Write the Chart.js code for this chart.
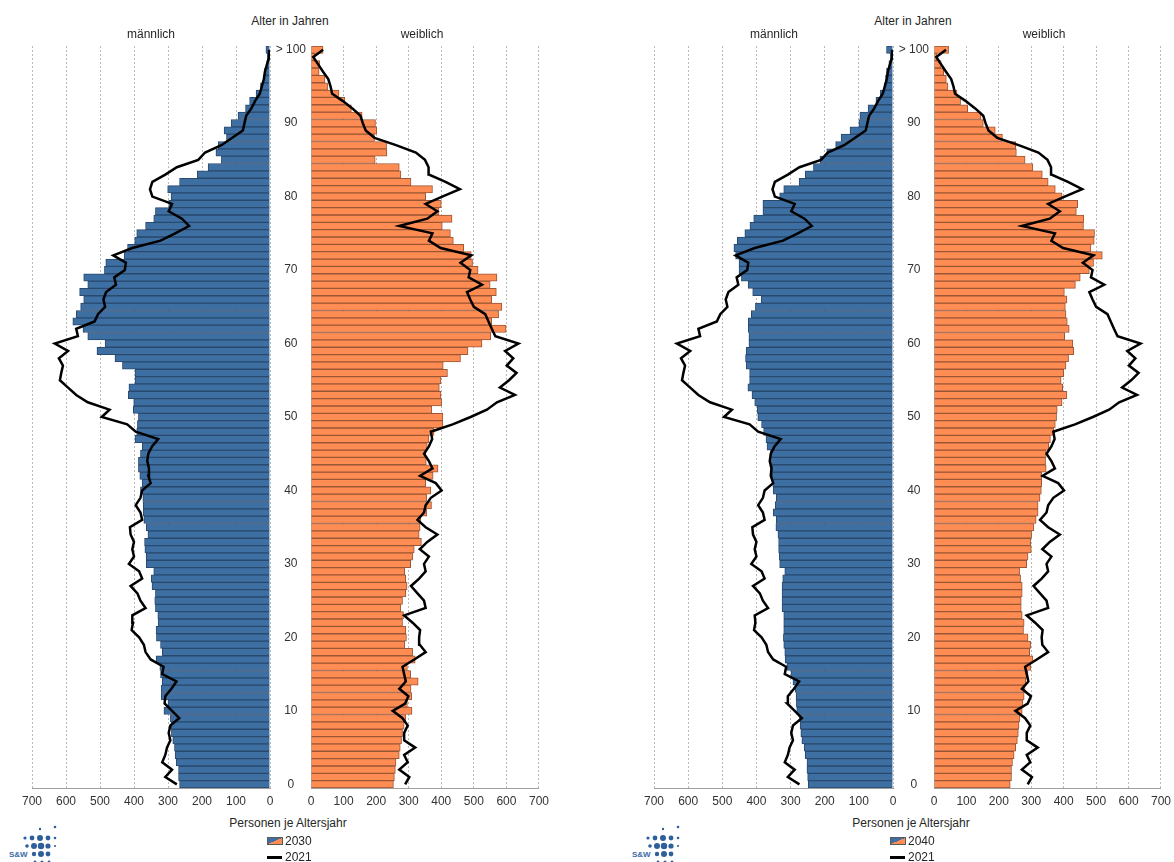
<!DOCTYPE html>
<html>
<head>
<meta charset="utf-8">
<script src="https://cdn.jsdelivr.net/npm/chart.js@4.4.0/dist/chart.umd.min.js"></script>
<style>
body{margin:0;background:#fff;width:1174px;height:862px;overflow:hidden;position:relative;font-family:"Liberation Sans",Arial,sans-serif;color:#262626}
canvas{position:absolute}
.t{position:absolute;font-size:12px;white-space:nowrap;transform:translate(-50%,-50%)}
.l{position:absolute;font-size:12px;white-space:nowrap;transform:translateY(-50%)}
.sw{position:absolute;width:14px;height:6px;border:1px solid #5a5a5a;background:linear-gradient(to bottom right,#3e6fa3 50%,#ff8c52 50%)}
.ln{position:absolute;width:15px;height:3px;background:#000}
svg{position:absolute}
</style>
</head>
<body>
<canvas id="mL" width="268" height="782" style="left:16px;top:33px"></canvas>
<canvas id="fL" width="285" height="782" style="left:270px;top:33px"></canvas>
<canvas id="mR" width="269" height="782" style="left:638px;top:33px"></canvas>
<canvas id="fR" width="284" height="782" style="left:893px;top:33px"></canvas>

<div class="t" style="left:290px;top:21px">Alter in Jahren</div>
<div class="t" style="left:151px;top:34px">männlich</div>
<div class="t" style="left:422px;top:34px">weiblich</div>
<div class="t" style="left:913px;top:21px">Alter in Jahren</div>
<div class="t" style="left:774px;top:34px">männlich</div>
<div class="t" style="left:1044px;top:34px">weiblich</div>

<div class="t" style="left:288px;top:823px">Personen je Altersjahr</div>
<div class="sw" style="left:267px;top:837px"></div>
<div class="l" id="yL" style="left:285px;top:841px"></div>
<div class="ln" style="left:267px;top:856px"></div>
<div class="l" id="lL" style="left:285px;top:857px"></div>

<div class="t" style="left:911px;top:823px">Personen je Altersjahr</div>
<div class="sw" style="left:890px;top:837px"></div>
<div class="l" id="yR" style="left:908px;top:841px"></div>
<div class="ln" style="left:890px;top:856px"></div>
<div class="l" id="lR" style="left:908px;top:857px"></div>

<svg width="60" height="40" style="left:8px;top:824px" id="logoL"></svg>
<svg width="60" height="40" style="left:631px;top:824px" id="logoR"></svg>

<script>
// Altersjahre 0 .. 100 (100 = "> 100")
const ages = [0,1,2,3,4,5,6,7,8,9,10,11,12,13,14,15,16,17,18,19,20,21,22,23,24,25,26,27,28,29,30,31,32,33,34,35,36,37,38,39,40,41,42,43,44,45,46,47,48,49,50,51,52,53,54,55,56,57,58,59,60,61,62,63,64,65,66,67,68,69,70,71,72,73,74,75,76,77,78,79,80,81,82,83,84,85,86,87,88,89,90,91,92,93,94,95,96,97,98,99,100];
const ageTicks = ['0','10','20','30','40','50','60','70','80','90','> 100'];
const years = ['2030', '2040'];
const baseYear = '2021';

// Personen je Altersjahr, Alter 0 -> 100
const male2030 = [266,269,269,276,279,281,286,290,291,293,312,300,320,320,317,322,324,335,317,322,334,335,329,330,337,339,337,347,349,342,364,364,368,369,359,364,371,373,373,374,381,376,383,387,387,381,376,397,392,390,387,402,401,417,415,397,397,434,456,509,485,536,550,580,570,557,548,560,536,548,487,483,429,419,398,392,366,342,337,298,291,301,266,214,182,143,159,152,128,135,114,94,72,60,41,28,20,16,10,8,12];
const female2030 = [253,256,259,261,271,274,278,281,286,291,310,296,309,307,329,306,296,320,312,288,293,291,281,284,276,281,291,295,291,288,306,312,317,339,332,335,337,355,370,355,368,352,375,390,354,352,357,362,378,405,405,371,401,399,394,399,419,406,459,482,525,552,599,555,576,586,555,569,550,571,513,496,492,469,437,428,403,433,393,400,352,373,307,276,271,197,233,232,195,202,198,157,124,104,86,51,43,25,27,12,37];
const male2040 = [248,250,252,252,257,260,267,270,272,274,282,283,284,286,293,299,311,316,317,320,321,320,320,320,325,325,325,325,323,317,332,333,335,335,337,343,342,351,345,342,351,352,354,354,356,359,369,372,379,385,396,398,405,413,425,420,420,430,432,430,422,422,424,424,415,403,386,411,424,444,451,451,461,466,456,434,419,408,381,381,332,320,275,257,233,214,194,168,152,126,100,97,73,50,37,26,22,19,12,8,19];
const female2040 = [235,239,239,242,247,252,257,260,262,265,272,274,278,281,283,290,298,305,295,298,290,276,278,272,269,269,272,272,267,264,286,290,300,298,301,308,315,321,321,327,331,332,332,346,344,346,354,359,369,374,378,380,395,410,397,392,400,407,415,431,428,403,417,411,407,405,410,402,436,451,479,492,519,484,494,495,461,462,439,443,395,374,352,334,305,281,254,252,211,189,152,145,104,82,71,43,38,30,22,9,45];
const male2021 = [274,308,288,317,308,303,293,298,293,267,288,310,308,290,275,317,313,351,366,371,385,407,403,405,366,381,390,410,376,385,415,400,405,400,410,412,376,381,395,381,376,351,358,356,361,358,347,329,395,420,495,472,536,570,594,618,614,609,621,594,633,565,570,516,506,485,490,482,453,458,427,424,461,405,322,279,238,259,298,288,346,353,346,308,274,211,191,143,111,80,75,70,55,44,30,24,18,15,9,2,3];
const female2021 = [289,302,271,297,286,320,286,286,297,281,251,289,299,271,291,286,281,317,352,334,332,335,312,286,352,347,327,307,332,352,347,362,334,357,388,352,327,347,352,368,401,383,335,373,362,347,362,372,368,435,490,540,571,626,580,608,631,601,621,596,637,566,555,545,535,500,489,479,525,484,489,459,492,398,362,373,271,357,388,352,403,457,413,362,361,350,322,261,195,168,159,152,127,98,65,60,53,37,22,7,37];

const blue = '#3e6fa3', blueEdge = '#29496d';
const orange = '#ff8c52', orangeEdge = '#9a5636';
const font = {family: '"Liberation Sans", Arial, sans-serif', size: 12};

function pyramidSide(id, values, line, male) {
    return new Chart(document.getElementById(id), {
        type: 'bar',
        data: {
            labels: ages,
            datasets: [{
                type: 'line',
                label: baseYear,
                data: line,
                indexAxis: 'y',
                borderColor: '#000',
                borderWidth: 2.5,
                pointRadius: 0,
                order: 0
            }, {
                data: values,
                backgroundColor: male ? blue : orange,
                borderColor: male ? blueEdge : orangeEdge,
                borderWidth: 1,
                barPercentage: 1,
                categoryPercentage: 1,
                order: 1
            }]
        },
        options: {
            indexAxis: 'y',
            responsive: false,
            animation: false,
            // same top padding on both sides, bigger than the label overhang of the age axis
            layout: {padding: male ? {left: 14, right: 14, top: 13, bottom: 0} : {left: 0, right: 14, top: 13, bottom: 0}},
            plugins: {legend: {display: false}, tooltip: {enabled: false}},
            scales: {
                x: {
                    reverse: male,
                    min: 0,
                    max: 700,
                    ticks: {stepSize: 100, font: font, color: '#333', padding: 6, maxRotation: 0},
                    grid: {color: '#b8b8b8', drawTicks: false},
                    border: {display: true, color: '#a0a0a0', dash: [2, 2]},
                    afterFit: (s) => { s.height = 27; }
                },
                y: {
                    display: !male,
                    reverse: true,
                    grid: {display: false, drawTicks: false},
                    border: {display: true, color: '#a0a0a0'},
                    ticks: {
                        autoSkip: false,
                        crossAlign: 'center',
                        padding: 5,
                        font: font,
                        color: '#333',
                        callback: (v, i) => (i % 10 === 0 ? ageTicks[i / 10] : null)
                    },
                    afterFit: (s) => { if (!male) s.width = 41; }
                }
            }
        }
    });
}

pyramidSide('mL', male2030, male2021, true);
pyramidSide('fL', female2030, female2021, false);
pyramidSide('mR', male2040, male2021, true);
pyramidSide('fR', female2040, female2021, false);

document.getElementById('yL').textContent = years[0];
document.getElementById('yR').textContent = years[1];
document.getElementById('lL').textContent = baseYear;
document.getElementById('lR').textContent = baseYear;

// kleines S&W Logo
function logo(id) {
    const svg = document.getElementById(id);
    const dots = [[32,5,1.2],[47,3,1.3],[17,14,1.6],[24,14,2.4],[32,14,3],[40,14,2.4],[47,14,1.3],[19,22,1.8],[26,22,3],[33,22,3.2],[40,22,2.6],[47,22,1.1],[26,30,2.2],[33,30,3],[40,30,2.4],[27,38,1.4],[34,38,1.6],[41,38,1.4]];
    let html = '';
    dots.forEach(d => { html += '<circle cx="' + d[0] + '" cy="' + d[1] + '" r="' + d[2] + '" fill="#2f5f9a"/>'; });
    html += '<text x="1" y="33" font-size="8" font-weight="bold" fill="#3d6aa5" font-family="Liberation Sans, Arial">S&amp;W</text>';
    svg.innerHTML = html;
}
logo('logoL');
logo('logoR');
</script>
</body>
</html>
